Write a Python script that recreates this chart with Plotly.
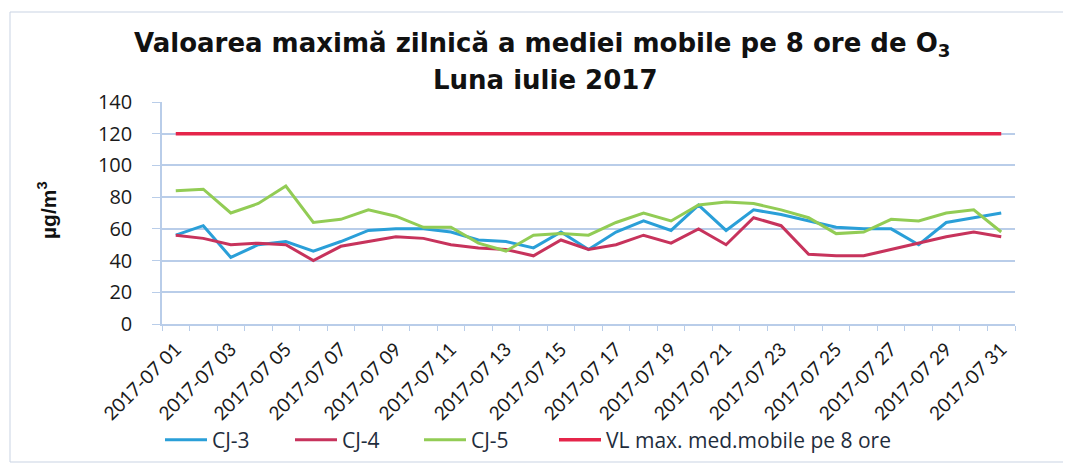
import plotly.graph_objects as go

days = [f"2017-07 {d:02d}" for d in range(1, 32)]

cj3 = [56, 62, 42, 50, 52, 46, 52, 59, 60, 60, 58, 53, 52, 48, 58, 47,
       58, 65, 59, 75, 59, 72, 69, 65, 61, 60, 60, 50, 64, 67, 70]
cj4 = [56, 54, 50, 51, 50, 40, 49, 52, 55, 54, 50, 48, 47, 43, 53, 47,
       50, 56, 51, 60, 50, 67, 62, 44, 43, 43, 47, 51, 55, 58, 55]
cj5 = [84, 85, 70, 76, 87, 64, 66, 72, 68, 61, 61, 51, 46, 56, 57, 56,
       64, 70, 65, 75, 77, 76, 72, 67, 57, 58, 66, 65, 70, 72, 58]
vl = [120] * 31

y_ticks = [0, 20, 40, 60, 80, 100, 120, 140]
x_label_every = 2

title1 = "<b>Valoarea maximă zilnică a mediei mobile pe 8 ore de O<sub>3</sub></b>"
title2 = "<b>Luna iulie 2017</b>"
ytitle = "<b>µg/m<sup>3</sup></b>"

idx = list(range(len(days)))

# page body has an 8px margin, so the figure origin sits at (8, 8)
OFF = 8
# plot area in window pixels
L, R, T, B = 162, 1015, 102, 324
PW, PH = R - L, B - T

def px_x(px):
    return (px - L) / PW

def px_y(py):
    return (B - py) / PH

fig = go.Figure()
series = [
    ("CJ-3", cj3, "#2A9FD8", 3, "legend", 173),
    ("CJ-4", cj4, "#C7335C", 3, "legend2", 303),
    ("CJ-5", cj5, "#92CC55", 3, "legend3", 432),
    ("VL max. med.mobile pe 8 ore", vl, "#E5254A", 3.5, "legend4", 567),
]
legfont = dict(family="Open Sans, Lato, sans-serif", size=21, color="#1f2d3d")
legends = {}
for name, vals, col, w, lg, lx in series:
    fig.add_trace(go.Scatter(x=idx, y=vals, name=name, mode="lines", legend=lg,
                             line=dict(color=col, width=w)))
    legends[lg] = dict(orientation="h", x=px_x(lx - 13), y=px_y(440),
                       xanchor="left", yanchor="middle", font=legfont,
                       itemwidth=42, bgcolor="rgba(0,0,0,0)")

xtickfont = dict(family="Lato, Open Sans, sans-serif", size=19, color="#1a1a1a")
ytickfont = dict(family="Open Sans, Lato, sans-serif", size=20, color="#1a1a1a")
grid = "#B9CDE9"

fig.update_layout(
    width=1071, height=470, autosize=False,
    paper_bgcolor="white", plot_bgcolor="white",
    margin=dict(l=L - OFF, r=1071 - R + OFF, t=T - OFF, b=470 - B + OFF),
    showlegend=True,
    **legends,
    xaxis=dict(range=[-0.5, len(days) - 0.5], tickmode="array",
               tickvals=idx[::x_label_every], ticktext=days[::x_label_every],
               tickangle=-45, tickfont=xtickfont, showgrid=False, automargin=False,
               showline=True, linecolor=grid, linewidth=1.5,
               ticks="", zeroline=False, ticklabelstandoff=5,
               minor=dict(tickmode="linear", tick0=-0.5, dtick=1, ticks="outside",
                          ticklen=5, tickcolor=grid, showgrid=False)),
    yaxis=dict(range=[0, 140], tickmode="array", tickvals=y_ticks, automargin=False,
               tickfont=ytickfont, showgrid=True, gridcolor=grid, gridwidth=1.5,
               showline=True, linecolor=grid, linewidth=1.5,
               ticks="outside", ticklen=8, tickcolor=grid, zeroline=False,
               ticklabelstandoff=16),
)

tfont = dict(family="DejaVu Sans, Liberation Sans, sans-serif", size=26, color="#111")
fig.add_annotation(text=title1, xref="paper", yref="paper", x=px_x(542), y=px_y(44),
                   xanchor="center", yanchor="middle", showarrow=False, font=tfont)
fig.add_annotation(text=title2, xref="paper", yref="paper", x=px_x(545), y=px_y(80),
                   xanchor="center", yanchor="middle", showarrow=False, font=tfont)
fig.add_annotation(text=ytitle, xref="paper", yref="paper", x=px_x(47), y=px_y(210),
                   xanchor="center", yanchor="middle", textangle=-90, showarrow=False,
                   font=dict(family="Liberation Sans, Arial, sans-serif", size=21, color="#111"))

fig.add_shape(type="rect", xref="paper", yref="paper",
              x0=px_x(10), x1=px_x(1066), y0=px_y(462), y1=px_y(12),
              line=dict(color="#C9D3E3", width=1))

fig.write_html("out.html")
